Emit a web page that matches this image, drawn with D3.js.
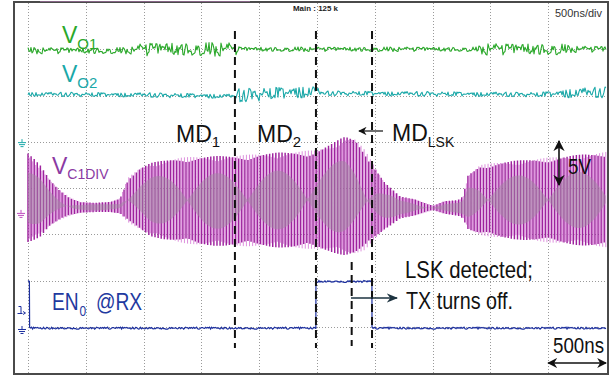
<!DOCTYPE html>
<html>
<head>
<meta charset="utf-8">
<script src="https://cdn.jsdelivr.net/npm/d3@7"></script>
<style>
  html, body { margin: 0; padding: 0; background: #fff; }
  svg { display: block; font-family: "Liberation Sans", Arial, Helvetica, sans-serif; }
</style>
</head>
<body>
<svg id="scope" width="613" height="378"></svg>
<script>
// ---- acquisition settings ----
const nsPerDiv = 500;                       // 500 ns/div, 10 divisions across
const timeDivs = d3.range(0, 11);           // vertical graticule lines
const levelDivs = d3.range(-4, 5);          // horizontal graticule lines (8 divisions)

// ---- V_C1DIV envelope (volts, 5 V/div, relative to its ground marker) ----
const vc1Time  = [0, 104, 190, 277, 363, 450, 580, 709, 796, 865, 969, 1055, 1185, 1315, 1488, 1791, 2007, 2266, 2491, 2612, 2742, 2829, 2915, 2976, 3088, 3218, 3348, 3503, 3607, 3720, 3763, 3806, 3910, 4083, 4343, 4602, 4862, 5000];
const vc1Upper = [6.6, 5.3, 3.7, 2.6, 1.8, 1.3, 1.2, 1.3, 1.7, 3.9, 5.0, 5.5, 5.8, 6.1, 6.2, 6.3, 6.5, 6.7, 6.9, 7.5, 8.4, 8.2, 6.9, 5.6, 3.4, 1.9, 1.6, 0.9, 1.4, 1.5, 1.9, 4.2, 5.3, 5.6, 5.9, 6.2, 6.5, 6.7];
const vc1Lower = [-3.1, -2.5, -1.3, -0.65, -0.2, 0.1, 0.2, 0.2, 0.0, -0.9, -1.7, -2.4, -2.8, -3.1, -3.4, -3.5, -3.5, -3.7, -3.8, -4.1, -4.5, -4.4, -3.9, -3.0, -1.7, -0.5, -0.2, 0.4, 0.0, -0.2, -0.5, -1.7, -2.3, -2.6, -2.9, -3.2, -3.5, -3.6];

// ---- V_O1 noise band (divisions) ----
const vo1Time = [0, 880, 1000, 1790, 1830, 3880, 3950, 4600, 4700, 5000];
const vo1Mean = [-0.03, -0.03, 0, 0, 0, 0, 0, 0, 0, 0];
const vo1Half = [0.07, 0.07, 0.15, 0.15, 0.05, 0.05, 0.13, 0.13, 0.07, 0.07];

// ---- V_O2 noise band (divisions, relative to its ground marker) ----
const vo2Time = [0, 1055, 1790, 1810, 2100, 2491, 2526, 4430, 4700, 5000];
const vo2Mean = [1.06, 1.04, 1.01, 1.03, 1.07, 1.12, 1.08, 1.05, 1.08, 1.1];
const vo2Half = [0.045, 0.05, 0.05, 0.15, 0.14, 0.14, 0.05, 0.05, 0.11, 0.12];

// ---- EN0 @RX logic trace (volts, 2 V/div) ----
const en0Time  = [0, 12, 14, 2490, 2491, 2975, 2976, 5000];
const en0Level = [2.1, 2.1, 0.08, 0.08, 2.1, 2.1, 0.08, 0.08];

// fixed jitter shape used to texture the noisy traces
const jitter = [0.42,-0.71,0.18,0.93,-0.36,-0.88,0.55,0.07,-0.62,0.81,-0.15,0.34,-0.97,0.66,0.21,-0.48,0.74,-0.29,-0.05,0.89,-0.77,0.12,0.51,-0.58,0.97,-0.41,0.26,-0.84,0.63,-0.09,0.38,-0.69,0.85,-0.22,0.02,-0.93,0.47,0.71,-0.33,-0.6,0.15,0.79,-0.52,0.31,-0.12,0.95,-0.74,0.09,0.58,-0.37,-0.82,0.44,0.68,-0.26,0.19,-0.55,0.87,-0.91,0.28,0.04,-0.45,0.73,-0.18,0.61,-0.67,0.35,-0.99,0.5,0.14,-0.31,0.83,-0.57,-0.08,0.4,-0.79,0.92,-0.24,0.11,-0.64,0.69,-0.43,0.24,0.56,-0.86,0.33,-0.16,0.78,-0.5,0.06];

// ---- screen geometry ----
const svg = d3.select("#scope");
const plot = { left: 28, right: 606, top: 3, bottom: 373 };
const x = d3.scaleLinear().domain([0, 10 * nsPerDiv]).range([plot.left, plot.right]);
const yDiv = d3.scaleLinear().domain([-4, 4]).range([plot.bottom, plot.top]);

const channels = {
  vo1: { color: "#2aa82a", offset: 3.0,   perDiv: 1 },
  vo2: { color: "#1aa8a8", offset: 0.97,  perDiv: 1 },
  vc1: { color: "#9e229e", offset: -0.56, perDiv: 5 },
  en0: { color: "#1c2f9e", offset: -3.07, perDiv: 2 }
};
const yOf = (ch, v) => yDiv(ch.offset + v / ch.perDiv);

// ---- frame ----
svg.append("rect").attr("width", 613).attr("height", 378).attr("fill", "#fff");

// graticule
const grid = svg.append("g").attr("stroke", "#9a9a9a").attr("stroke-width", 1).attr("stroke-dasharray", "1,2");
grid.selectAll("line.v").data(timeDivs.slice(0, 10)).join("line")
  .attr("x1", d => Math.round(x(d * nsPerDiv)) + 0.5).attr("x2", d => Math.round(x(d * nsPerDiv)) + 0.5)
  .attr("y1", plot.top).attr("y2", plot.bottom);
grid.selectAll("line.h").data(levelDivs.slice(1, 8)).join("line")
  .attr("y1", d => Math.round(yDiv(d)) + 0.5).attr("y2", d => Math.round(yDiv(d)) + 0.5)
  .attr("x1", plot.left).attr("x2", plot.right);

// outer bezel lines
const bezel = svg.append("g").attr("stroke", "#4a4a4a").attr("stroke-width", 2).attr("fill", "none");
bezel.append("path").attr("d", `M14,2 H608 V374 H14 Z`);
svg.append("line").attr("x1", 40).attr("x2", 250).attr("y1", 1.5).attr("y2", 1.5)
  .attr("stroke", "#b07ab0").attr("stroke-width", 1).attr("opacity", 0.6);

// ---- helpers ----
function band(times, values) { return d3.scaleLinear().domain(times).range(values).clamp(true); }

function noisyTrace(ch, times, means, halves, step, mul, shift, width) {
  const mean = band(times, means), half = band(times, halves);
  const pts = [];
  const dt = x.invert(plot.left + step) - x.invert(plot.left);
  const n = Math.floor(10 * nsPerDiv / dt);
  for (let i = 0; i <= n; i++) {
    const t = i * dt;
    const j = jitter[(i * mul + shift) % jitter.length];
    pts.push([x(t), yOf(ch, mean(t) + half(t) * j)]);
  }
  svg.append("path").attr("d", d3.line()(pts)).attr("fill", "none")
    .attr("stroke", ch.color).attr("stroke-width", width).attr("stroke-linejoin", "round");
}

// ---- V_O1 / V_O2 ----
noisyTrace(channels.vo1, vo1Time, vo1Mean, vo1Half, 1, 7, 3, 1.1);
noisyTrace(channels.vo2, vo2Time, vo2Mean, vo2Half, 1, 11, 17, 1.1);

// ---- V_C1DIV: sampled carrier drawn as vertical strokes ----
(function () {
  const ch = channels.vc1;
  const up = band(vc1Time, vc1Upper), lo = band(vc1Time, vc1Lower);
  const strokeNs = 13.4;          // display sample interval
  const beatNs = 520;             // aliasing beat period
  const beatNodeNs = 4498;
  let dark = "", light = "";
  const innerPts = [];
  for (let k = 0; k * strokeNs <= 10 * nsPerDiv; k++) {
    const t = k * strokeNs;
    const px = x(t);
    const yt = yOf(ch, up(t)), yb = yOf(ch, lo(t));
    const mid = (yt + yb) / 2, half = (yb - yt) / 2;
    const ph = Math.PI * (t - beatNodeNs) / beatNs;
    const c = Math.abs(Math.cos(ph)), s = Math.abs(Math.sin(ph));
    if (k % 2 === 0) {
      const f = 0.88 + 0.12 * s;
      dark += `M${px.toFixed(2)},${(mid - half * f).toFixed(2)}V${(mid + half * f).toFixed(2)}`;
    } else {
      const f = 0.88 + 0.12 * c;
      light += `M${px.toFixed(2)},${(mid - half * f).toFixed(2)}V${(mid + half * f).toFixed(2)}`;
    }
    innerPts.push({ x: px, y0: mid - half * 0.62 * s, y1: mid + half * 0.62 * s });
  }
  svg.append("path").attr("d", light).attr("stroke", "#d984d9").attr("stroke-width", 0.9).attr("fill", "none");
  svg.append("path").attr("d", dark).attr("stroke", ch.color).attr("stroke-width", 1.45).attr("fill", "none");
  svg.append("path")
    .attr("d", d3.area().x(d => d.x).y0(d => d.y0).y1(d => d.y1)(innerPts))
    .attr("fill", "#a08a9f").attr("opacity", 0.5);
})();

// ---- EN0 @RX ----
(function () {
  const ch = channels.en0;
  const pts = [];
  const dt = x.invert(plot.left + 1) - x.invert(plot.left);
  for (let s = 0; s < en0Time.length - 1; s++) {
    const t0 = en0Time[s], t1 = en0Time[s + 1];
    const lv = d3.scaleLinear().domain([t0, t1]).range([en0Level[s], en0Level[s + 1]]);
    for (let t = t0; t < t1; t += dt) {
      const j = jitter[(Math.round(t / dt) * 13 + 5) % jitter.length];
      pts.push([x(t), yOf(ch, lv(t)) + 1.0 * j]);
    }
  }
  pts.push([x(5000), yOf(ch, en0Level[en0Level.length - 1])]);
  svg.append("path").attr("d", d3.line()(pts)).attr("fill", "none")
    .attr("stroke", ch.color).attr("stroke-width", 1.2);
})();

// ---- channel markers ----
function groundMark(cx, cy, color) {
  const g = svg.append("g").attr("stroke", color).attr("stroke-width", 1).attr("fill", "none");
  g.append("path").attr("d", `M${cx},${cy - 3}V${cy} M${cx - 4},${cy + 0.5}H${cx + 4} M${cx - 3},${cy + 2.5}H${cx + 3} M${cx - 1.5},${cy + 4.5}H${cx + 1.5}`);
}
groundMark(22, yOf(channels.vo2, 0) - 1, channels.vo2.color);
groundMark(21, yOf(channels.vc1, 0) - 1, "#c04ec0");
groundMark(22, yOf(channels.en0, 0) - 1, channels.en0.color);
svg.append("path").attr("d", "M18.5,306.5 H21 V313 M17.5,313.5 H22.5 M23,311.5 L25.5,313 L23,314.5")
  .attr("stroke", channels.en0.color).attr("stroke-width", 1).attr("fill", "none");

// ---- annotation lines ----
const ann = svg.append("g").attr("stroke", "#111").attr("stroke-width", 2).attr("stroke-dasharray", "8,5").attr("fill", "none");
[1790, 2491, 2976].forEach(t => {
  ann.append("line").attr("x1", x(t)).attr("x2", x(t)).attr("y1", 31).attr("y2", 348);
});
ann.append("line").attr("x1", x(2800)).attr("x2", x(2800)).attr("y1", 262).attr("y2", 346);

svg.append("defs").html(`
  <marker id="ah" viewBox="0 0 10 10" refX="9" refY="5" markerWidth="7" markerHeight="7" orient="auto-start-reverse">
    <path d="M0,0 L10,5 L0,10 L3,5 Z" fill="#111"/></marker>
  <marker id="ah2" viewBox="0 0 10 10" refX="9" refY="5" markerWidth="8" markerHeight="8" orient="auto-start-reverse">
    <path d="M0,1 L10,5 L0,9 L3,5 Z" fill="#1d3340"/></marker>`);

// ---- labels ----
function subLabel(x0, y0, main, sub, color, fs, sfs, dy) {
  const t = svg.append("text").attr("x", x0).attr("y", y0).attr("fill", color).attr("font-size", fs);
  t.append("tspan").text(main);
  t.append("tspan").attr("dy", dy).attr("font-size", sfs).text(sub);
  return t;
}
subLabel(62, 43, "V", "O1", channels.vo1.color, 23, 15, 6);
subLabel(62, 82, "V", "O2", channels.vo2.color, 23, 15, 6);
subLabel(52, 174, "V", "C1DIV", "#8b3aa3", 23, 14, 5);
subLabel(176, 142, "MD", "1", "#111", 23, 15, 5);
subLabel(257, 142, "MD", "2", "#111", 23, 15, 5);
subLabel(392, 141, "MD", "LSK", "#111", 23, 14, 6);
svg.append("line").attr("x1", 383).attr("x2", 359).attr("y1", 131).attr("y2", 131)
  .attr("stroke", "#111").attr("stroke-width", 1.2).attr("marker-end", "url(#ah)");

// EN0 @RX label, drawn in a horizontally condensed face
const enColor = "#1f3aa0";
const enLabel = svg.append("g").attr("transform", "translate(52,310) scale(0.8,1)").attr("fill", enColor);
enLabel.append("text").attr("x", 0).attr("y", 0).attr("font-size", 24).text("EN");
enLabel.append("text").attr("x", 34.5).attr("y", 6).attr("font-size", 15).text("0");
enLabel.append("text").attr("x", 55).attr("y", 0).attr("font-size", 24).text("@RX");

svg.append("text").attr("x", 405).attr("y", 278).attr("font-size", 24).attr("fill", "#111")
  .attr("textLength", 128).attr("lengthAdjust", "spacingAndGlyphs").text("LSK detected;");
svg.append("text").attr("x", 406).attr("y", 309).attr("font-size", 24).attr("fill", "#111")
  .attr("textLength", 107).attr("lengthAdjust", "spacingAndGlyphs").text("TX turns off.");
svg.append("line").attr("x1", 351).attr("x2", 397).attr("y1", 298).attr("y2", 298)
  .attr("stroke", "#1d3340").attr("stroke-width", 1.4).attr("marker-end", "url(#ah2)");

// 5 V scale arrow
svg.append("line").attr("x1", 559).attr("x2", 559).attr("y1", 141).attr("y2", 185)
  .attr("stroke", "#111").attr("stroke-width", 1.6).attr("marker-start", "url(#ah)").attr("marker-end", "url(#ah)");
svg.append("text").attr("x", 568).attr("y", 174).attr("font-size", 22).attr("fill", "#111")
  .attr("textLength", 23).attr("lengthAdjust", "spacingAndGlyphs").text("5V");

// 500 ns scale arrow
svg.append("text").attr("x", 553).attr("y", 353).attr("font-size", 22).attr("fill", "#111")
  .attr("textLength", 51).attr("lengthAdjust", "spacingAndGlyphs").text("500ns");
svg.append("line").attr("x1", x(4500)).attr("x2", x(5000)).attr("y1", 363).attr("y2", 363)
  .attr("stroke", "#111").attr("stroke-width", 1.4).attr("marker-start", "url(#ah)").attr("marker-end", "url(#ah)");

// scope status text
svg.append("text").attr("x", 555).attr("y", 17).attr("font-size", 11).attr("fill", "#333")
  .attr("textLength", 47).attr("lengthAdjust", "spacingAndGlyphs").text(`${nsPerDiv}ns/div`);
svg.append("text").attr("x", 293).attr("y", 11).attr("font-size", 7.5).attr("font-weight", "bold").attr("fill", "#222")
  .attr("textLength", 45).attr("lengthAdjust", "spacingAndGlyphs").text("Main : 125 k");
</script>
</body>
</html>
